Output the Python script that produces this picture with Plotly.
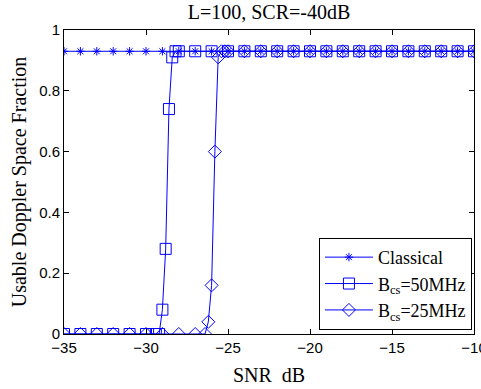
import plotly.graph_objects as go

# Data
x_classical = list(range(-35, -9))
y_classical = [0.93] * len(x_classical)

x_50 = [-35, -34, -33, -32, -31, -30, -29.4, -29.2, -29.0, -28.8, -28.6, -28.4, -28.2, -28.0,
        -27, -26, -25, -24, -23, -22, -21, -20, -19, -18, -17, -16, -15, -14, -13, -12, -11, -10]
y_50 = [0, 0, 0, 0, 0, 0, 0, 0, 0.08, 0.28, 0.74, 0.91, 0.93, 0.93,
        0.93, 0.93, 0.93, 0.93, 0.93, 0.93, 0.93, 0.93, 0.93, 0.93, 0.93, 0.93, 0.93, 0.93, 0.93, 0.93, 0.93, 0.93]

x_25 = [-35, -34, -33, -32, -31, -30, -29, -28, -27, -26.4, -26.2, -26.0, -25.8, -25.6, -25.4, -25.2,
        -25, -24, -23, -22, -21, -20, -19, -18, -17, -16, -15, -14, -13, -12, -11, -10]
y_25 = [0, 0, 0, 0, 0, 0, 0, 0, 0, 0, 0.04, 0.16, 0.60, 0.91, 0.93, 0.93,
        0.93, 0.93, 0.93, 0.93, 0.93, 0.93, 0.93, 0.93, 0.93, 0.93, 0.93, 0.93, 0.93, 0.93, 0.93, 0.93]

x_ticks = [-35, -30, -25, -20, -15, -10]
y_ticks = [0, 0.2, 0.4, 0.6, 0.8, 1]
y_ticklabels = ["0", "0.2", "0.4", "0.6", "0.8", "1"]

blue = "rgb(0,0,255)"
serif = "Liberation Serif"
sans = "Liberation Sans"

fig = go.Figure()
fig.add_trace(go.Scatter(x=x_classical, y=y_classical, mode="lines+markers", name="Classical",
                         line=dict(color=blue, width=1),
                         marker=dict(symbol="asterisk-open", size=7, color=blue, line=dict(color=blue, width=1))))
fig.add_trace(go.Scatter(x=x_50, y=y_50, mode="lines+markers", name="B<sub>cs</sub>=50MHz",
                         line=dict(color=blue, width=1),
                         marker=dict(symbol="square-open", size=11, color=blue, line=dict(color=blue, width=1))))
fig.add_trace(go.Scatter(x=x_25, y=y_25, mode="lines+markers", name="B<sub>cs</sub>=25MHz",
                         line=dict(color=blue, width=1),
                         marker=dict(symbol="diamond-open", size=10, color=blue, line=dict(color=blue, width=1))))

fig.update_layout(
    width=481, height=389,
    margin=dict(l=64, r=7, t=30, b=55),
    plot_bgcolor="white", paper_bgcolor="white",
    title=dict(text="L=100, SCR=-40dB", x=(64 + 474) / 2 / 481, xanchor="center",
               y=1 - 12 / 389, yanchor="middle", font=dict(family=serif, size=20, color="black")),
    showlegend=True,
    legend=dict(x=0.995, y=0.316, xanchor="right", yanchor="top",
                bordercolor="black", borderwidth=1, bgcolor="white",
                font=dict(family=serif, size=18, color="black"),
                tracegroupgap=0, itemwidth=48),
    xaxis=dict(range=[-35, -10], tickvals=x_ticks, ticks="inside", ticklen=5, tickcolor="black",
               showline=True, linecolor="black", linewidth=1, mirror="allticks", showgrid=False,
               zeroline=False, tickfont=dict(family=sans, size=15, color="black"),
               ticklabeloverflow="allow", automargin=False,
               title=dict(text="SNR  dB", font=dict(family=serif, size=20, color="black"), standoff=12)),
    yaxis=dict(range=[0, 1], tickvals=y_ticks, ticktext=y_ticklabels, ticks="inside", ticklen=5,
               tickcolor="black", showline=True, linecolor="black", linewidth=1, mirror="allticks",
               showgrid=False, zeroline=False, tickfont=dict(family=sans, size=15, color="black"),
               ticklabeloverflow="allow", automargin=False,
               title=dict(text="Usable Doppler Space Fraction", font=dict(family=serif, size=20, color="black"),
                          standoff=7)),
)

fig.write_html("out.html")
